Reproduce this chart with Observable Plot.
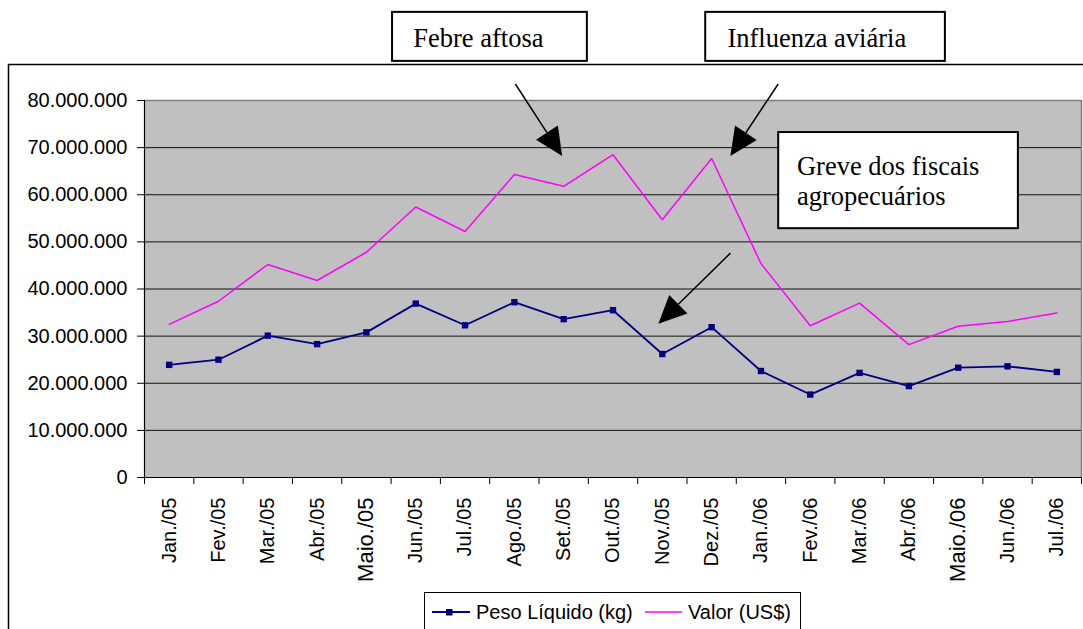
<!DOCTYPE html>
<html><head><meta charset="utf-8">
<script src="https://cdn.jsdelivr.net/npm/d3@7"></script>
<script src="https://cdn.jsdelivr.net/npm/@observablehq/plot@0.6"></script>
<style>html,body{margin:0;padding:0;background:#fff;} svg{display:block;}</style>
</head><body><div id="chart"></div>
<script>
const months = ["Jan./05","Fev./05","Mar./05","Abr./05","Maio./05","Jun./05","Jul./05","Ago./05","Set./05","Out./05","Nov./05","Dez./05","Jan./06","Fev./06","Mar./06","Abr./06","Maio./06","Jun./06","Jul./06"];
const pesoLiquido = [23.9e6,25.0e6,30.1e6,28.3e6,30.8e6,36.9e6,32.3e6,37.2e6,33.6e6,35.5e6,26.2e6,31.9e6,22.6e6,17.6e6,22.2e6,19.4e6,23.3e6,23.6e6,22.4e6];
const valorUSD = [32.5e6,37.4e6,45.2e6,41.8e6,47.8e6,57.4e6,52.2e6,64.3e6,61.8e6,68.5e6,54.7e6,67.7e6,45.4e6,32.2e6,37.0e6,28.2e6,32.1e6,33.1e6,34.9e6];
const yTicks = [0,10e6,20e6,30e6,40e6,50e6,60e6,70e6,80e6];
const seriesNames = ["Peso Líquido (kg)", "Valor (US$)"];
const annotationLabels = [["Febre aftosa"], ["Influenza aviária"], ["Greve dos fiscais", "agropecuários"]];

// annotation placement in data space (category index, value)
const annotationBoxes = [
  {x1: 4.53, x2: 8.48, y1: 88.3e6, y2: 98.7e6, tx: 4.96, ty: [91.2e6]},
  {x1: 10.88, x2: 15.74, y1: 88.3e6, y2: 98.7e6, tx: 11.33, ty: [91.2e6]},
  {x1: 12.36, x2: 17.22, y1: 52.8e6, y2: 73.2e6, tx: 12.74, ty: [64.1e6, 57.7e6]}
];
const arrows = [
  {x1: 7.03, y1: 83.4e6, x2: 7.98, y2: 68.1e6},
  {x1: 12.36, y1: 83.4e6, x2: 11.39, y2: 68.1e6},
  {x1: 11.39, y1: 47.5e6, x2: 9.93, y2: 32.5e6}
];

const locale = d3.formatLocale({decimal: ",", thousands: ".", grouping: [3], currency: ["", ""]});
const fmt = locale.format(",");
const idx = months.map((m, i) => i);
const boundaries = d3.range(-0.5, months.length, 1);
const navy = "#000080", magenta = "#ff00ff";
const sans = "'Liberation Sans', Arial, sans-serif";
const serif = "'Liberation Serif', 'Times New Roman', serif";

const plot = Plot.plot({
  width: 1083, height: 629,
  marginLeft: 144, marginRight: 2, marginTop: 100, marginBottom: 152,
  style: {fontFamily: sans, fontSize: "20px", color: "#000", background: "transparent"},
  x: {type: "linear", domain: [-0.5, months.length - 0.5], label: null},
  y: {domain: [0, 80e6], label: null},
  marks: [
    Plot.frame({fill: "#c0c0c0", stroke: "none"}),
    Plot.ruleY(yTicks.filter(v => v > 0 && v < 80e6), {stroke: "#111", strokeWidth: 1}),
    Plot.ruleY([80e6], {stroke: "#808080", strokeWidth: 1.5}),
    Plot.ruleX([months.length - 0.5], {stroke: "#808080", strokeWidth: 1.5}),
    Plot.ruleX([-0.5], {stroke: "#000", strokeWidth: 1.2}),
    Plot.ruleY([0], {stroke: "#000", strokeWidth: 1.2}),
    Plot.axisY({ticks: yTicks, tickFormat: fmt, tickSize: 7, tickPadding: 10, fontSize: 20, stroke: "#000", fill: "#000"}),
    Plot.axisX({ticks: boundaries, tickFormat: () => "", tickSize: 7, stroke: "#000"}),
    Plot.text(idx, {x: d => d, y: 0, text: d => months[d], rotate: -90, textAnchor: "end", dy: 20,
      fontSize: d => months[d].startsWith("Maio") ? 22 : 20, fill: "#000"}),
    Plot.line(valorUSD, {x: (d, i) => i, y: d => d, stroke: magenta, strokeWidth: 1.5}),
    Plot.line(pesoLiquido, {x: (d, i) => i, y: d => d, stroke: navy, strokeWidth: 1.8}),
    Plot.dot(pesoLiquido, {x: (d, i) => i, y: d => d, symbol: "square", r: 3.6, fill: navy, stroke: "none"})
  ]
});
document.getElementById("chart").appendChild(plot);

const svg = d3.select(plot).style("overflow", "visible");
const X = plot.scale("x"), Y = plot.scale("y");
const px = v => X.apply(v), py = v => Y.apply(v);

// outer chart frame
svg.insert("rect", ":first-child")
  .attr("x", 8.5).attr("y", 64.5).attr("width", 1200).attr("height", 700)
  .attr("fill", "#fff").attr("stroke", "#000").attr("stroke-width", 1.5);

const ann = svg.append("g").attr("text-anchor", "start");
// arrows
arrows.forEach(a => {
  const x1 = px(a.x1), y1 = py(a.y1), x2 = px(a.x2), y2 = py(a.y2);
  const dx = x2 - x1, dy = y2 - y1, len = Math.hypot(dx, dy);
  const ux = dx / len, uy = dy / len, L = 28, W = 13;
  const bx = x2 - ux * L, by = y2 - uy * L;
  ann.append("line").attr("x1", x1).attr("y1", y1).attr("x2", bx).attr("y2", by)
    .attr("stroke", "#000").attr("stroke-width", 1.5);
  ann.append("polygon")
    .attr("points", [[x2, y2], [bx - uy * W, by + ux * W], [bx + uy * W, by - ux * W]].map(p => p.join(",")).join(" "))
    .attr("fill", "#000");
});
// boxes
annotationBoxes.forEach((b, k) => {
  ann.append("rect")
    .attr("x", px(b.x1)).attr("y", py(b.y2))
    .attr("width", px(b.x2) - px(b.x1)).attr("height", py(b.y1) - py(b.y2))
    .attr("fill", "#fff").attr("stroke", "#000").attr("stroke-width", 2);
  annotationLabels[k].forEach((t, j) => {
    ann.append("text").attr("x", px(b.tx)).attr("y", py(b.ty[j]))
      .attr("text-anchor", "start")
      .attr("font-family", serif).attr("font-size", 26.5).attr("fill", "#000").text(t);
  });
});

// legend
const lg = svg.append("g").attr("font-family", sans).attr("font-size", 20).attr("text-anchor", "start");
lg.append("rect").attr("x", 424.5).attr("y", 592.5).attr("width", 376).attr("height", 60)
  .attr("fill", "#fff").attr("stroke", "#000").attr("stroke-width", 1);
lg.append("line").attr("x1", 432).attr("x2", 470).attr("y1", 612).attr("y2", 612).attr("stroke", navy).attr("stroke-width", 1.8);
lg.append("rect").attr("x", 446).attr("y", 609).attr("width", 6.5).attr("height", 6.5).attr("fill", navy);
lg.append("text").attr("x", 476).attr("y", 619).attr("text-anchor", "start").attr("fill", "#000").text(seriesNames[0]);
lg.append("line").attr("x1", 645).attr("x2", 682).attr("y1", 612).attr("y2", 612).attr("stroke", magenta).attr("stroke-width", 1.5);
lg.append("text").attr("x", 688).attr("y", 619).attr("text-anchor", "start").attr("fill", "#000").text(seriesNames[1]);
</script>
</body></html>
